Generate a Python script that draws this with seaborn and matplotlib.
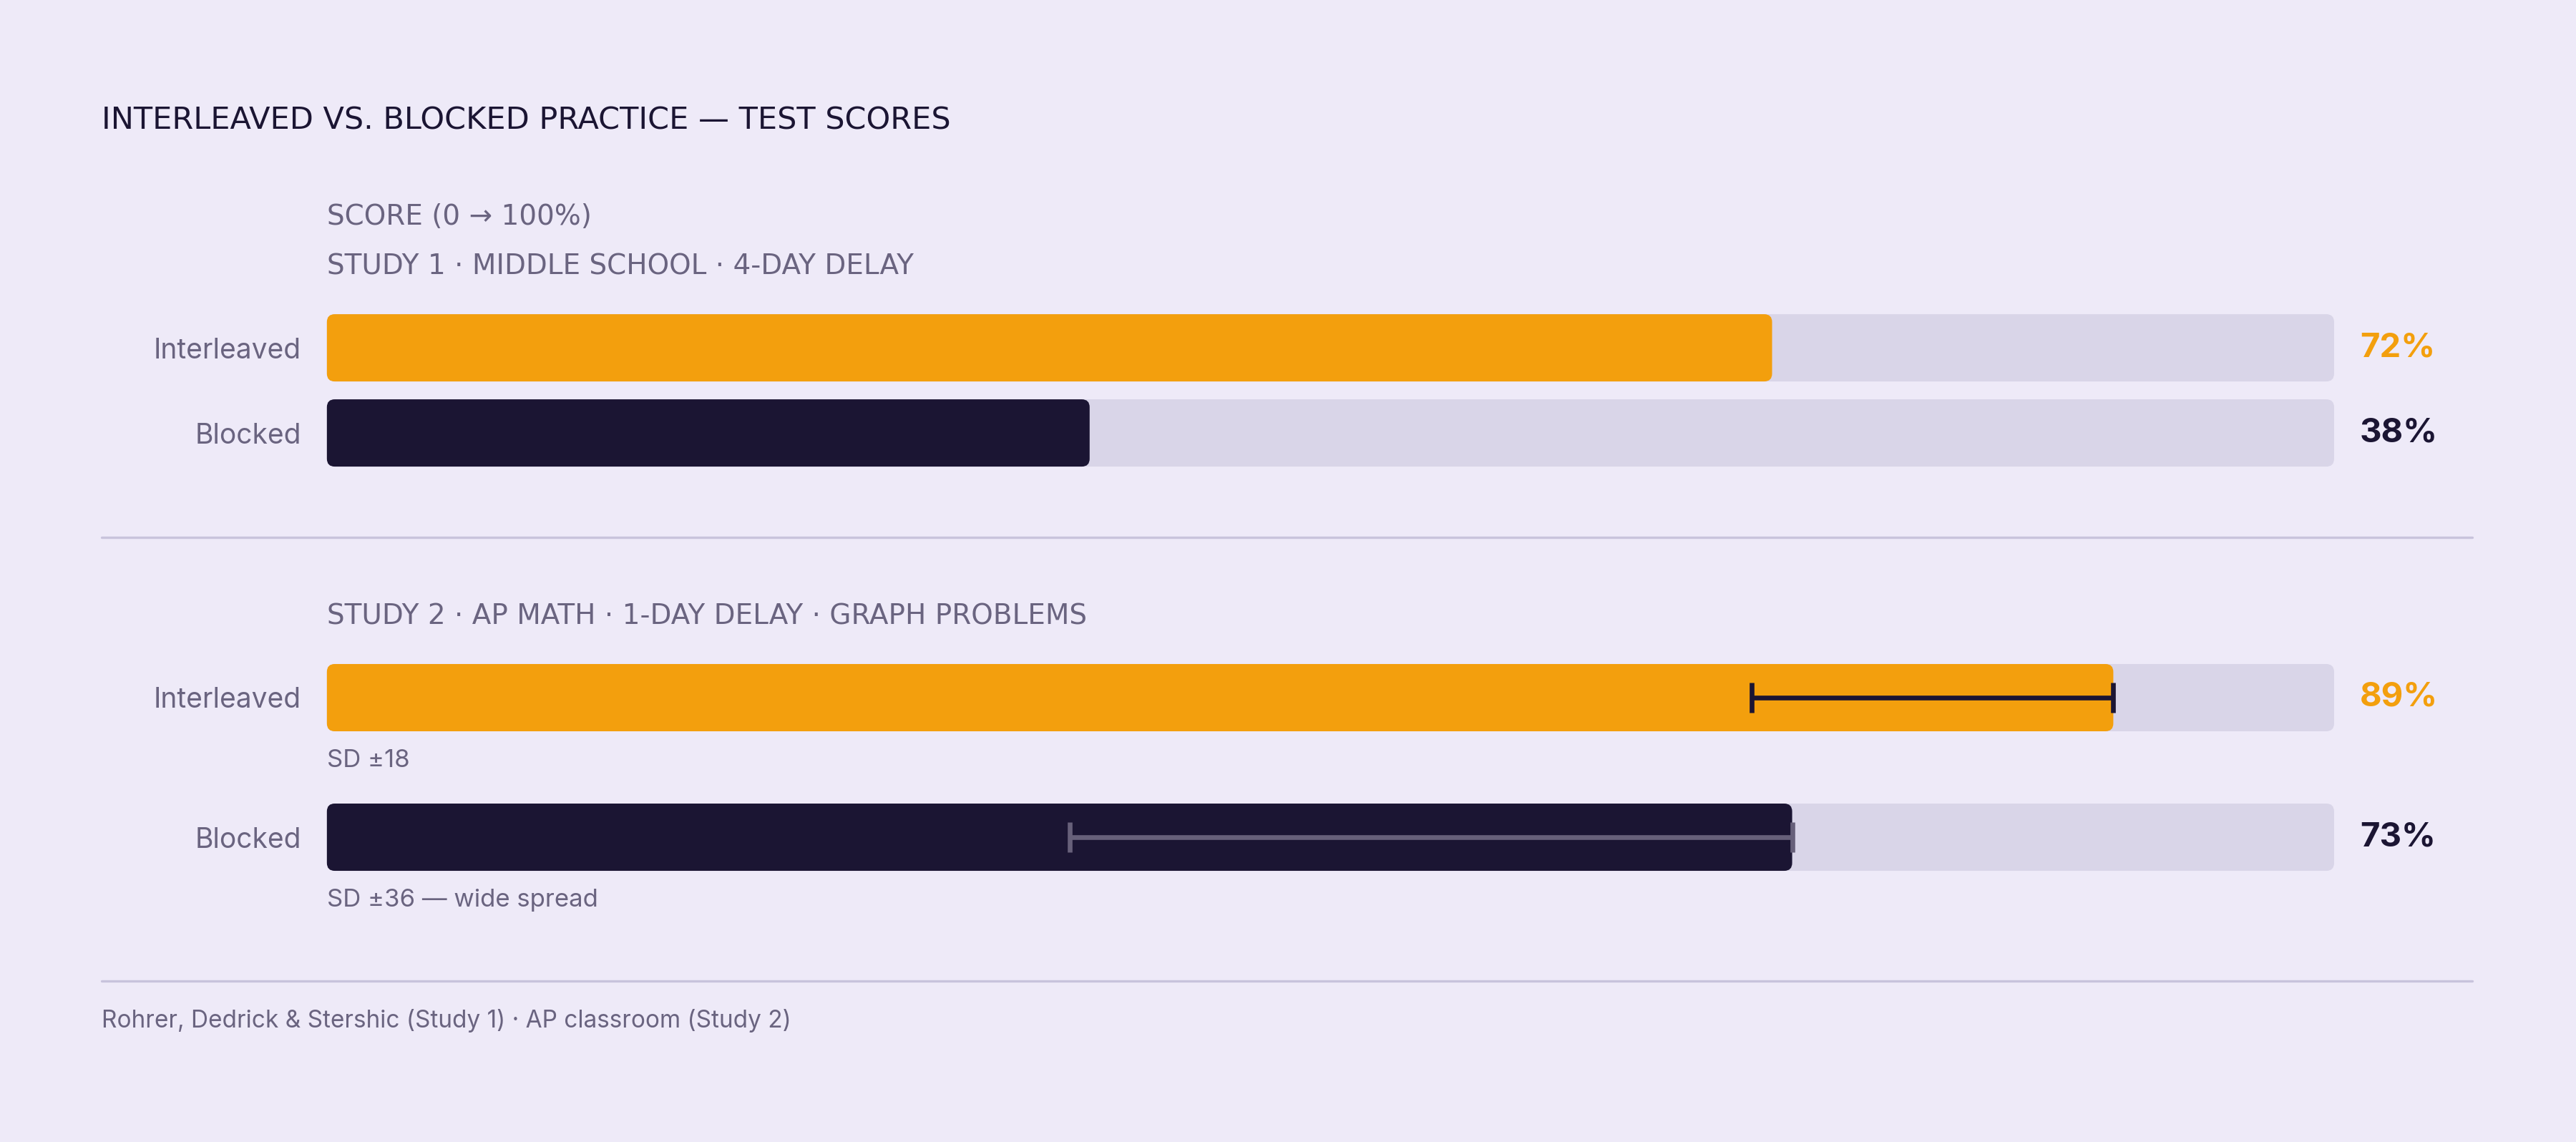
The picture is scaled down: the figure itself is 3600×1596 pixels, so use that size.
import numpy as np
import pandas as pd
import matplotlib.pyplot as plt
import seaborn as sns
from matplotlib.patches import FancyBboxPatch

# Data
groups = ["Interleaved", "Blocked"]
study1_scores = [72, 38]
study2_scores = [89, 73]
study2_sd = [18, 36]
study2_notes = ["SD ±18", "SD ±36 — wide spread"]

title = "INTERLEAVED VS. BLOCKED PRACTICE — TEST SCORES"
axis_note = "SCORE (0 → 100%)"
study1_header = "STUDY 1 · MIDDLE SCHOOL · 4-DAY DELAY"
study2_header = "STUDY 2 · AP MATH · 1-DAY DELAY · GRAPH PROBLEMS"
footer = "Rohrer, Dedrick & Stershic (Study 1) · AP classroom (Study 2)"

# Colours
BG = "#EEEAF8"
TRACK = "#D9D5E8"
ORANGE = "#F39F0D"
DARK = "#1B1533"
MUTED = "#6A6480"
RULE = "#C8C3DC"
palette = {"Interleaved": ORANGE, "Blocked": DARK}
err_colors = [DARK, "#67607A"]

sns.set_theme(style="white")
plt.rcParams['font.family'] = ['Inter', 'DejaVu Sans']

fig = plt.figure(figsize=(18, 7.98), dpi=200, facecolor=BG)
ax1 = fig.add_axes([0.1269, 0.5836, 0.7792, 0.1491])
ax2 = fig.add_axes([0.1269, 0.2058, 0.7792, 0.2444])


def rounded(ax, radius_px=11):
    # swap seaborn's rectangles for rounded ones
    bb = ax.get_window_extent()
    x0, x1 = ax.get_xlim()
    y0, y1 = ax.get_ylim()
    px_x = bb.width / abs(x1 - x0)
    px_y = bb.height / abs(y1 - y0)
    for p in list(ax.patches):
        box = FancyBboxPatch((p.get_x(), p.get_y()), p.get_width(), p.get_height(),
                             boxstyle=f"round,pad=0,rounding_size={radius_px / px_x}",
                             mutation_aspect=px_x / px_y,
                             fc=p.get_facecolor(), ec="none", clip_on=False)
        p.remove()
        ax.add_patch(box)


def draw_study(ax, scores, width):
    df = pd.DataFrame({"group": groups, "score": scores})
    sns.barplot(data=df, x=[100] * len(groups), y="group", color=TRACK,
                width=width, saturation=1, linewidth=0, ax=ax)
    sns.barplot(data=df, x="score", y="group", hue="group", palette=palette,
                width=width, saturation=1, linewidth=0, legend=False, ax=ax)
    ax.set_xlim(0, 100)
    ax.set_ylim(1.5, -0.5)
    ax.set_facecolor("none")
    ax.set_xlabel("")
    ax.set_ylabel("")
    ax.set_xticks([])
    ax.tick_params(axis="y", length=0, pad=13, labelsize=14, labelcolor=MUTED)
    sns.despine(ax=ax, left=True, bottom=True)
    rounded(ax)
    for i, (g, s) in enumerate(zip(groups, scores)):
        ax.annotate(f"{s}%", xy=(100, i), xytext=(13, 0), textcoords="offset points",
                    va="center", ha="left", fontsize=17, fontweight="bold",
                    color=palette[g])


draw_study(ax1, study1_scores, 0.79)
draw_study(ax2, study2_scores, 0.482)

# one-sided SD whiskers for study 2
for i, (s, sd) in enumerate(zip(study2_scores, study2_sd)):
    ax2.errorbar(s, i, xerr=[[sd], [0]], fmt="none", ecolor=err_colors[i],
                 elinewidth=2.4, capsize=7.5, capthick=2.4, zorder=3)
    ax2.annotate(study2_notes[i], xy=(0, i + 0.241), xytext=(0, -14.8),
                 textcoords="offset points", va="center", ha="left",
                 fontsize=12.5, color=MUTED)

# headings, rules, footer (wider DejaVu stands in for the letter-spaced caps)
caps = ["DejaVu Sans"]
fig.text(0.0394, 0.8947, title, fontsize=15.5, color=DARK, va="center",
         family=caps)
fig.text(0.1269, 0.8102, axis_note, fontsize=14, color=MUTED, va="center",
         family=caps)
fig.text(0.1269, 0.7669, study1_header, fontsize=14, color=MUTED, va="center",
         family=caps)
fig.text(0.1269, 0.4605, study2_header, fontsize=14, color=MUTED, va="center",
         family=caps)
for y in [0.5294, 0.1410]:
    fig.add_artist(plt.Line2D([0.0394, 0.9597], [y, y], color=RULE, lw=1.2))
fig.text(0.0394, 0.1065, footer, fontsize=12, color=MUTED, va="center")

fig.savefig("out.png", dpi=200, facecolor=BG)
